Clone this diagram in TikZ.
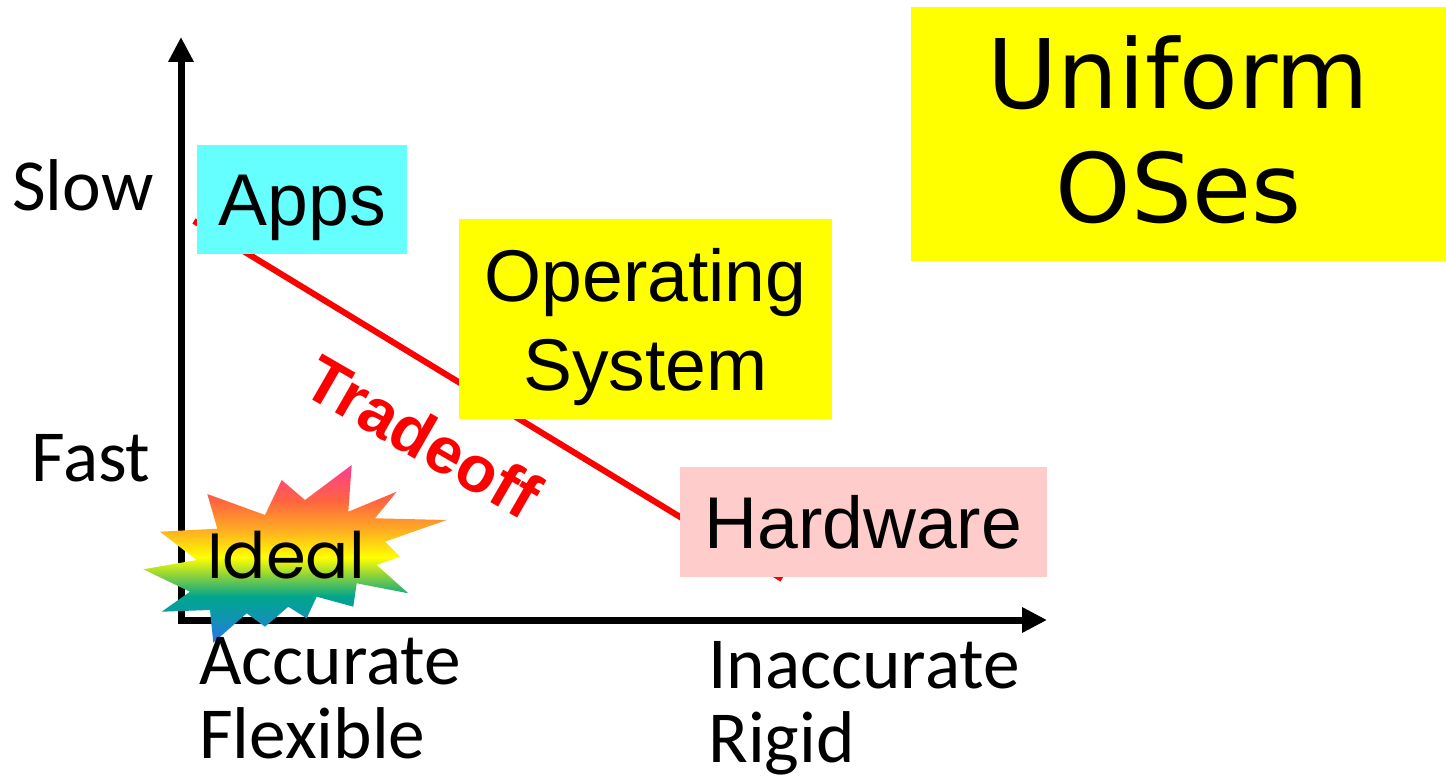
\documentclass[tikz,border=0pt]{standalone}
\usepackage{fontspec}
\usepackage{tikz}
\usetikzlibrary{arrows.meta}

\newfontfamily\carlito{Carlito}
\newfontfamily\liberation{Liberation Sans}
\newfontfamily\dejavu{DejaVu Sans}
\newfontfamily\poppins{Poppins}

\definecolor{appcyan}{RGB}{102,255,255}
\definecolor{osyellow}{RGB}{255,255,0}
\definecolor{hwpink}{RGB}{255,204,204}
\definecolor{burstblue}{RGB}{45,110,235}
\definecolor{burstsea}{RGB}{20,145,185}
\definecolor{burstteal}{RGB}{0,165,140}
\definecolor{burstgreen}{RGB}{140,210,60}
\definecolor{burstyellow}{RGB}{255,255,0}
\definecolor{burstorange}{RGB}{255,170,35}
\definecolor{burstred}{RGB}{255,100,65}
\definecolor{burstpink}{RGB}{255,60,145}

\pgfdeclareverticalshading{rainbowburst}{100bp}{color(0bp)=(burstblue); color(25bp)=(burstblue); color(31bp)=(burstsea); color(38bp)=(burstteal); color(44bp)=(burstgreen); color(49bp)=(burstyellow); color(57bp)=(burstorange); color(65bp)=(burstred); color(75bp)=(burstpink); color(100bp)=(burstpink)}

\tikzset{
  axis/.style={line width=5.25pt, line join=miter,
    {Triangle[length=18.75pt,width=18pt]}-{Triangle[length=18.75pt,width=18pt]}},
  dropshadow/.style={draw=black!15, shift={(2.5,2.5)}},
  tradeline/.style={draw=red, line width=4.5pt},
  layer/.style={rectangle, inner sep=0pt, align=center,
    font=\liberation\fontsize{55}{66.75}\selectfont, text depth=0pt},
  axislabel/.style={inner sep=0pt, align=left,
    font=\carlito\fontsize{55}{55.5}\selectfont}
}

\begin{document}
\begin{tikzpicture}[x=0.75pt,y=0.75pt,yscale=-1,xscale=1]
    \useasboundingbox (0,0) rectangle (1446,784);

    % axes
    \coordinate (ytop) at (181,37);
    \coordinate (origin) at (181,620);
    \coordinate (xend) at (1047,620);
    \draw [axis, dropshadow] (ytop) -- (origin) -- (xend);
    \draw [axis] (ytop) -- (origin) -- (xend);

    % tradeoff line, runs under the boxes
    \coordinate (hi) at (194,221);
    \coordinate (lo) at (782,579);
    \draw [tradeline, dropshadow] (hi) -- (lo);
    \draw [tradeline] (hi) -- (lo);

    \node (apps) at (302.3,199.7) [layer, fill=appcyan, minimum width=157.5pt, minimum height=81.75pt, text height=39.4pt] {Apps};
    \node (os) at (645.5,319.3) [layer, fill=osyellow, minimum width=279.75pt, minimum height=150pt, text height=106.15pt] {Operating\\System};
    \node (hardware) at (863.3,522) [layer, fill=hwpink, minimum width=275pt, minimum height=82pt, text height=39.4pt] {Hardware};
    \node (uniform) at (1178.5,134) [layer, fill=osyellow, minimum width=401.25pt, minimum height=190.5pt,
        font=\dejavu\fontsize{72}{85}\selectfont, text height=137.5pt, text depth=5pt] {Uniform\\OSes};

    % the star
    \shade [shading=rainbowburst] (351.7,465) -- (348.3,511.7) -- (396.7,491.7) -- (375,518.3)
        -- (446.7,520) -- (385,541.7) -- (400,556.7) -- (376.7,565) -- (408.3,593.3)
        -- (356.7,583.3) -- (353.3,606.7) -- (316.7,596.7) -- (306.7,618.3) -- (288.3,606.7)
        -- (265,626.7) -- (246.7,613.3) -- (213.3,642.7) -- (210,610) -- (161.7,611.7)
        -- (190,591.7) -- (143.3,569.3) -- (196.7,560) -- (160,531.7) -- (217.3,528.7)
        -- (207.3,494) -- (265,515) -- (281.7,480) -- (305,500) -- cycle;
    \node (ideal) at (286,578) [anchor=base, inner sep=0pt, font=\poppins\fontsize{48}{48}\selectfont] {Ideal};

    \node (tradeoff) at (423,437) [rotate=-30, inner sep=0pt, text=red,
        font=\liberation\bfseries\fontsize{49}{49}\selectfont] {Tradeoff};

    % axis labels (base = last line)
    \node (slow) at (12,211) [axislabel, anchor=base west] {Slow};
    \node (fast) at (31,481) [axislabel, anchor=base west] {Fast};
    \node (accurate) at (199,758.5) [axislabel, anchor=base west] {Accurate\\Flexible};
    \node (inaccurate) at (708,762) [axislabel, anchor=base west] {Inaccurate\\Rigid};
\end{tikzpicture}
\end{document}
